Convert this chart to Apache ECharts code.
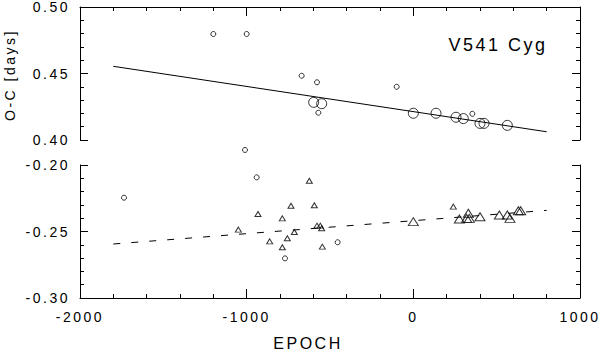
<!DOCTYPE html>
<html>
<head>
<meta charset="utf-8">
<script src="https://cdn.jsdelivr.net/npm/echarts@6/dist/echarts.min.js"></script>
<style>
  html, body { margin: 0; padding: 0; background: #fff; }
  #main { width: 600px; height: 350px; }
  #main text { letter-spacing: 2.5px; }
</style>
</head>
<body>
<div id="main"></div>
<script>
// x ticks (EPOCH) and the two y ranges of the broken axis
const xTicks = [-2000, -1000, 0, 1000];
const topRange = [0.40, 0.50];
const bottomRange = [-0.30, -0.20];

// upper panel: primary minima (big = newer timings, small = older ones)
const topBig = [
  [-598, 0.4283], [-550, 0.4273], [0, 0.4201], [136, 0.4201], [256, 0.4171],
  [300, 0.4161], [400, 0.4125], [424, 0.4125], [564, 0.4110]
];
const topSmall = [
  [-1200, 0.4797], [-1000, 0.4797], [-670, 0.4483], [-578, 0.4434],
  [-570, 0.4205], [-100, 0.4400], [354, 0.4197]
];
const topFit = [[-1800, 0.4554], [800, 0.4062]];

// lower panel: secondary minima
const bottomCircles = [
  [-1736, -0.2246], [-1010, -0.1887], [-940, -0.2093], [-454, -0.2581], [-770, -0.2702]
];
const bottomSmallTri = [
  [-624, -0.2118], [-734, -0.2306], [-594, -0.2303], [-932, -0.2368],
  [-786, -0.2401], [-1050, -0.2486], [-714, -0.2504], [-578, -0.2456],
  [-558, -0.2456], [-550, -0.2476], [-756, -0.2551], [-862, -0.2574],
  [-786, -0.2619], [-546, -0.2614], [240, -0.2313]
];
const bottomBigTri = [
  [0, -0.2426], [276, -0.2406], [330, -0.2363], [320, -0.2401], [336, -0.2401],
  [400, -0.2389], [516, -0.2376], [564, -0.2376], [580, -0.2401],
  [630, -0.2344], [644, -0.2344]
];
const bottomFit = [[-1800, -0.2594], [800, -0.2341]];

const chart = echarts.init(document.getElementById('main'), null, { renderer: 'svg' });

const font = 'Liberation Sans';
const black = '#000';

function xAxis(gridIndex, position, showLabel) {
  return {
    type: 'value', gridIndex, position,
    min: xTicks[0], max: xTicks[xTicks.length - 1], interval: 1000,
    axisLine: { show: true, onZero: false, lineStyle: { color: black, width: 1 } },
    axisTick: { show: true, inside: true, length: 9, lineStyle: { color: black } },
    minorTick: { show: true, splitNumber: 5, length: 4, lineStyle: { color: black } },
    axisLabel: {
      show: showLabel, color: black, fontFamily: font, fontSize: 14, margin: 12,
      formatter: v => String(v)
    },
    splitLine: { show: false }
  };
}

function yAxis(gridIndex, position, range, showLabel) {
  return {
    type: 'value', gridIndex, position,
    min: range[0], max: range[1], interval: 0.05,
    axisLine: { show: true, onZero: false, lineStyle: { color: black, width: 1 } },
    axisTick: { show: true, inside: true, length: 8, lineStyle: { color: black } },
    minorTick: { show: true, splitNumber: 5, length: 4, lineStyle: { color: black } },
    axisLabel: {
      show: showLabel, color: black, fontFamily: font, fontSize: 14, margin: 10,
      formatter: v => v.toFixed(2)
    },
    splitLine: { show: false }
  };
}

const hollow = { color: 'rgba(0,0,0,0)', borderColor: black, borderWidth: 1 };

const option = {
  animation: false,
  backgroundColor: '#fff',
  grid: [
    { left: 80, right: 20, top: 7, height: 133 },
    { left: 80, right: 20, top: 165, height: 133 }
  ],
  xAxis: [xAxis(0, 'top', false), xAxis(1, 'bottom', true)],
  yAxis: [
    yAxis(0, 'left', topRange, true), yAxis(0, 'right', topRange, false),
    yAxis(1, 'left', bottomRange, true), yAxis(1, 'right', bottomRange, false)
  ],
  series: [
    { type: 'scatter', xAxisIndex: 0, yAxisIndex: 0, data: topBig, symbol: 'circle', symbolSize: 10, itemStyle: hollow },
    { type: 'scatter', xAxisIndex: 0, yAxisIndex: 0, data: topSmall, symbol: 'circle', symbolSize: 5, itemStyle: hollow },
    { type: 'line', xAxisIndex: 0, yAxisIndex: 0, data: topFit, symbol: 'none', lineStyle: { color: black, width: 1 } },
    { type: 'scatter', xAxisIndex: 1, yAxisIndex: 2, data: bottomCircles, symbol: 'circle', symbolSize: 5, itemStyle: hollow, clip: false },
    { type: 'scatter', xAxisIndex: 1, yAxisIndex: 2, data: bottomSmallTri, symbol: 'triangle', symbolSize: [6, 5], itemStyle: hollow },
    { type: 'scatter', xAxisIndex: 1, yAxisIndex: 2, data: bottomBigTri, symbol: 'triangle', symbolSize: [10, 8], itemStyle: hollow },
    { type: 'line', xAxisIndex: 1, yAxisIndex: 2, data: bottomFit, symbol: 'none', lineStyle: { color: black, width: 1, type: [7, 11] } }
  ],
  graphic: [
    { type: 'text', x: 498, y: 45, style: { text: 'V541 Cyg', fill: black, font: '18px "Liberation Sans"', textAlign: 'center', textVerticalAlign: 'middle' } },
    { type: 'text', x: 308, y: 343, style: { text: 'EPOCH', fill: black, font: '16px "Liberation Sans"', textAlign: 'center', textVerticalAlign: 'middle' } },
    { type: 'text', x: 10, y: 75, rotation: Math.PI / 2, style: { text: 'O-C [days]', fill: black, font: '14px "Liberation Sans"', textAlign: 'center', textVerticalAlign: 'middle' } }
  ]
};

chart.setOption(option);
</script>
</body>
</html>
